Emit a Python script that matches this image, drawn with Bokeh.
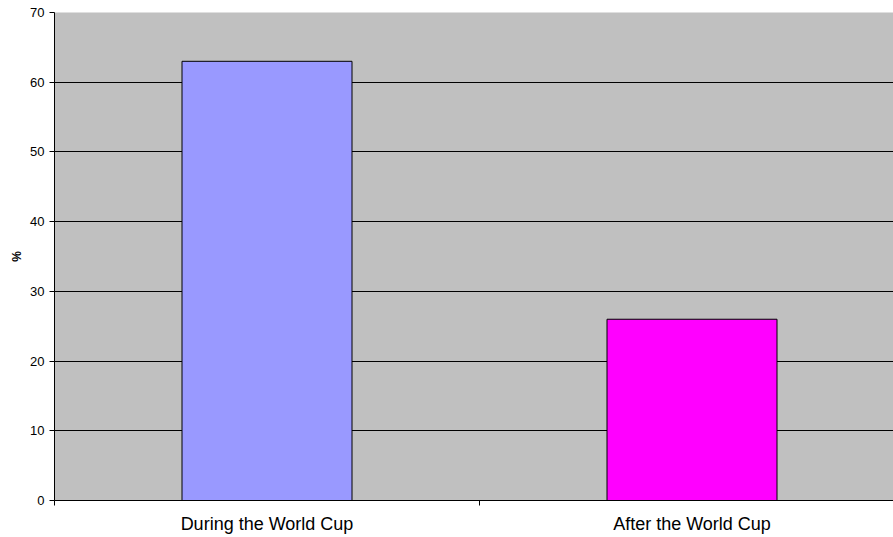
from bokeh.plotting import figure
from bokeh.models import Range1d, FixedTicker, ColumnDataSource
from bokeh.embed import file_html
from bokeh.resources import INLINE

categories = ["During the World Cup", "After the World Cup"]
values = [63, 26]
colors = ["#9999FF", "#FF00FF"]
y_ticks = [0, 10, 20, 30, 40, 50, 60, 70]

n = len(categories)
xs = [i + 0.5 for i in range(n)]
src = ColumnDataSource(dict(x=xs, top=values, color=colors))

# plot area extends beyond the right edge of the window in the reference
x_end = n * (893 - 54) / (2 * 425)

p = figure(width=893, height=537, output_backend="svg", toolbar_location=None,
           x_range=Range1d(0, x_end), y_range=Range1d(0, 70),
           min_border_left=54, min_border_right=0, min_border_top=12, min_border_bottom=37)
p.background_fill_color = "#C0C0C0"
p.border_fill_color = "white"
p.outline_line_color = None

p.vbar(x="x", top="top", width=0.4, bottom=0, fill_color="color", line_color="black",
       line_width=1, source=src)

p.xgrid.visible = False
p.ygrid.ticker = FixedTicker(ticks=y_ticks)
p.ygrid.grid_line_color = "black"
p.ygrid.grid_line_alpha = 1

p.yaxis.ticker = FixedTicker(ticks=y_ticks)
p.yaxis.axis_label = "%"
p.yaxis.axis_label_text_font = "Liberation Sans"
p.yaxis.axis_label_text_font_size = "12px"
p.yaxis.axis_label_text_font_style = "bold"
p.yaxis.axis_label_text_color = "black"
p.yaxis.axis_label_standoff = 3
p.yaxis.major_label_text_font = "Liberation Sans"
p.yaxis.major_label_text_font_size = "13px"
p.yaxis.major_label_text_color = "black"
p.yaxis.major_tick_out = 5
p.yaxis.major_tick_in = 0
p.yaxis.minor_tick_out = 0
p.yaxis.minor_tick_in = 0
p.yaxis.major_label_standoff = 5
p.yaxis.axis_line_color = "black"
p.yaxis.major_tick_line_color = "black"

p.xaxis.ticker = FixedTicker(ticks=xs, minor_ticks=list(range(n + 1)))
p.xaxis.major_label_overrides = {x: c for x, c in zip(xs, categories)}
p.xaxis.major_label_text_font = "Liberation Sans"
p.xaxis.major_label_text_font_size = "18px"
p.xaxis.major_label_text_color = "black"
p.xaxis.major_tick_out = 0
p.xaxis.major_tick_in = 0
p.xaxis.minor_tick_out = 5
p.xaxis.minor_tick_in = 0
p.xaxis.minor_tick_line_color = "black"
p.xaxis.major_label_standoff = 8
p.xaxis.axis_line_color = "black"

open("out.html", "w").write(file_html(p, INLINE))
